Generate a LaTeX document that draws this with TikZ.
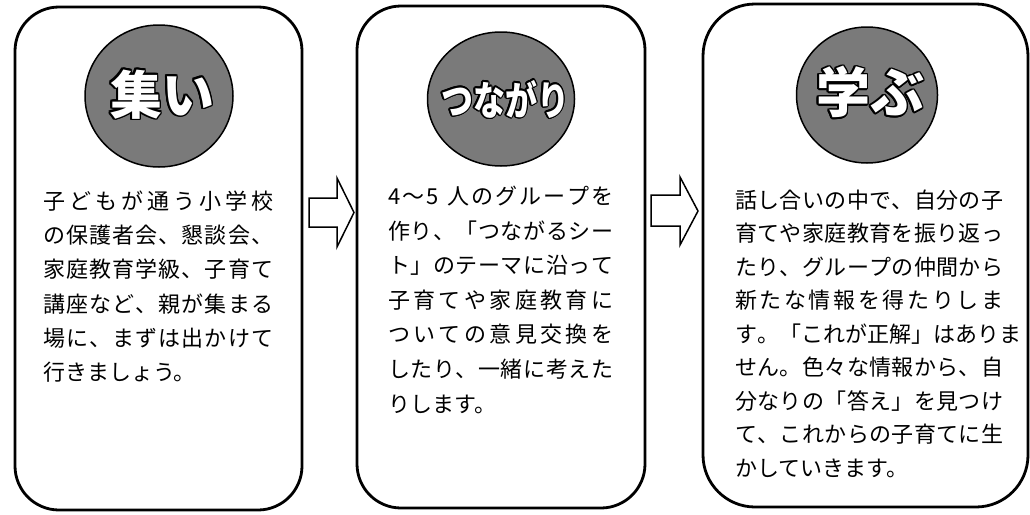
\documentclass[tikz,border=0pt]{standalone}
\usepackage{fontspec}
\usepackage{contour}
\usetikzlibrary{shapes.geometric}
\newfontfamily\jp{Noto Sans CJK JP}
\contourlength{1.6pt}
\tikzset{
  box/.style={draw=black, line width=2.8pt, rounded corners=#1, inner sep=0pt},
  circ/.style={ellipse, draw=black, line width=1.5pt, fill=black!52, inner sep=0pt},
  ttl/.style={font=\jp\bfseries\fontsize{#1}{#1}\selectfont, inner sep=0pt},
  line/.style={anchor=base west, inner sep=0pt, font=\jp\fontsize{22}{22}\selectfont},
  blk/.style={draw=black, line width=1.5pt, line join=miter, fill=white}
}
\makeatletter
\def\spreadA#1{#1\spreadB}
\def\spreadB#1{\ifx\relax#1\else\hfil#1\expandafter\spreadB\fi}
\newcommand{\jline}[2]{\makebox[#1][s]{\spreadA#2\relax}}
\makeatother
\newcommand{\lline}[2]{\makebox[#1][l]{#2}}
\begin{document}
\begin{tikzpicture}[x=1pt,y=-1pt]
\useasboundingbox[fill=white] (0,0) rectangle (1030,514);
% boxes
\node[box=44pt, minimum width=287pt, minimum height=503pt] (b1) at (158.5,258.5) {};
\node[box=44pt, minimum width=288pt, minimum height=502pt] (b2) at (501,257) {};
\node[box=52pt, minimum width=325pt, minimum height=503pt] (b3) at (865.5,255.5) {};
% circles
\node[circ, minimum width=148pt, minimum height=142pt] (c1) at (159,96) {};
\node[circ, minimum width=147pt, minimum height=134pt] (c2) at (501,99) {};
\node[circ, minimum width=141pt, minimum height=136pt] (c3) at (867,95) {};
% titles
\node[ttl=52] (t1) at (162,95) {\contour{black}{\textcolor{white}{集い}}};
\node[ttl=40, xscale=0.8] (t2) at (505,100) {\contour{black}{\textcolor{white}{つながり}}};
\node[ttl=54] (t3) at (870,93) {\contour{black}{\textcolor{white}{学ぶ}}};
% arrows
\draw[blk] (309,198) -- (337,198) -- (337,178) -- (354,212.5) -- (337,247) -- (337,227) -- (309,227) -- cycle;
\draw[blk] (651,195) -- (680,195) -- (680,177) -- (698,211) -- (680,245) -- (680,226) -- (651,226) -- cycle;
% text box 1
\node[line] (p1-1) at (43,209.4) {\jline{230pt}{子どもが通う小学校}};
\node[line] (p1-2) at (43,243.6) {\jline{230pt}{の保護者会、懇談会、}};
\node[line] (p1-3) at (43,277.8) {\jline{230pt}{家庭教育学級、子育て}};
\node[line] (p1-4) at (43,312.0) {\jline{230pt}{講座など、親が集まる}};
\node[line] (p1-5) at (43,346.2) {\jline{230pt}{場に、まずは出かけて}};
\node[line] (p1-6) at (43,380.4) {\lline{230pt}{行きましょう。}};
% text box 2
\node[line] (p2-1) at (388,204.4) {\jline{225pt}{4{〜}5{ }人のグループを}};
\node[line] (p2-2) at (388,239.0) {\jline{225pt}{作り、「つながるシー}};
\node[line] (p2-3) at (388,273.6) {\jline{225pt}{ト」のテーマに沿って}};
\node[line] (p2-4) at (388,308.2) {\jline{225pt}{子育てや家庭教育に}};
\node[line] (p2-5) at (388,342.8) {\jline{225pt}{ついての意見交換を}};
\node[line] (p2-6) at (388,377.4) {\jline{225pt}{したり、一緒に考えた}};
\node[line] (p2-7) at (388,412.0) {\lline{225pt}{りします。}};
% text box 3
\node[line] (p3-1) at (735,208.4) {\jline{268pt}{話し合いの中で、自分の子}};
\node[line] (p3-2) at (735,241.9) {\jline{268pt}{育てや家庭教育を振り返っ}};
\node[line] (p3-3) at (735,275.4) {\jline{268pt}{たり、グループの仲間から}};
\node[line] (p3-4) at (735,308.9) {\jline{268pt}{新たな情報を得たりしま}};
\node[line] (p3-5) at (735,342.4) {\jline{268pt}{す。「これが正解」はありま}};
\node[line] (p3-6) at (735,375.9) {\jline{268pt}{せん。色々な情報から、自}};
\node[line] (p3-7) at (735,409.4) {\jline{268pt}{分なりの「答え」を見つけ}};
\node[line] (p3-8) at (735,442.9) {\jline{268pt}{て、これからの子育てに生}};
\node[line] (p3-9) at (735,476.4) {\lline{268pt}{かしていきます。}};
\end{tikzpicture}
\end{document}
